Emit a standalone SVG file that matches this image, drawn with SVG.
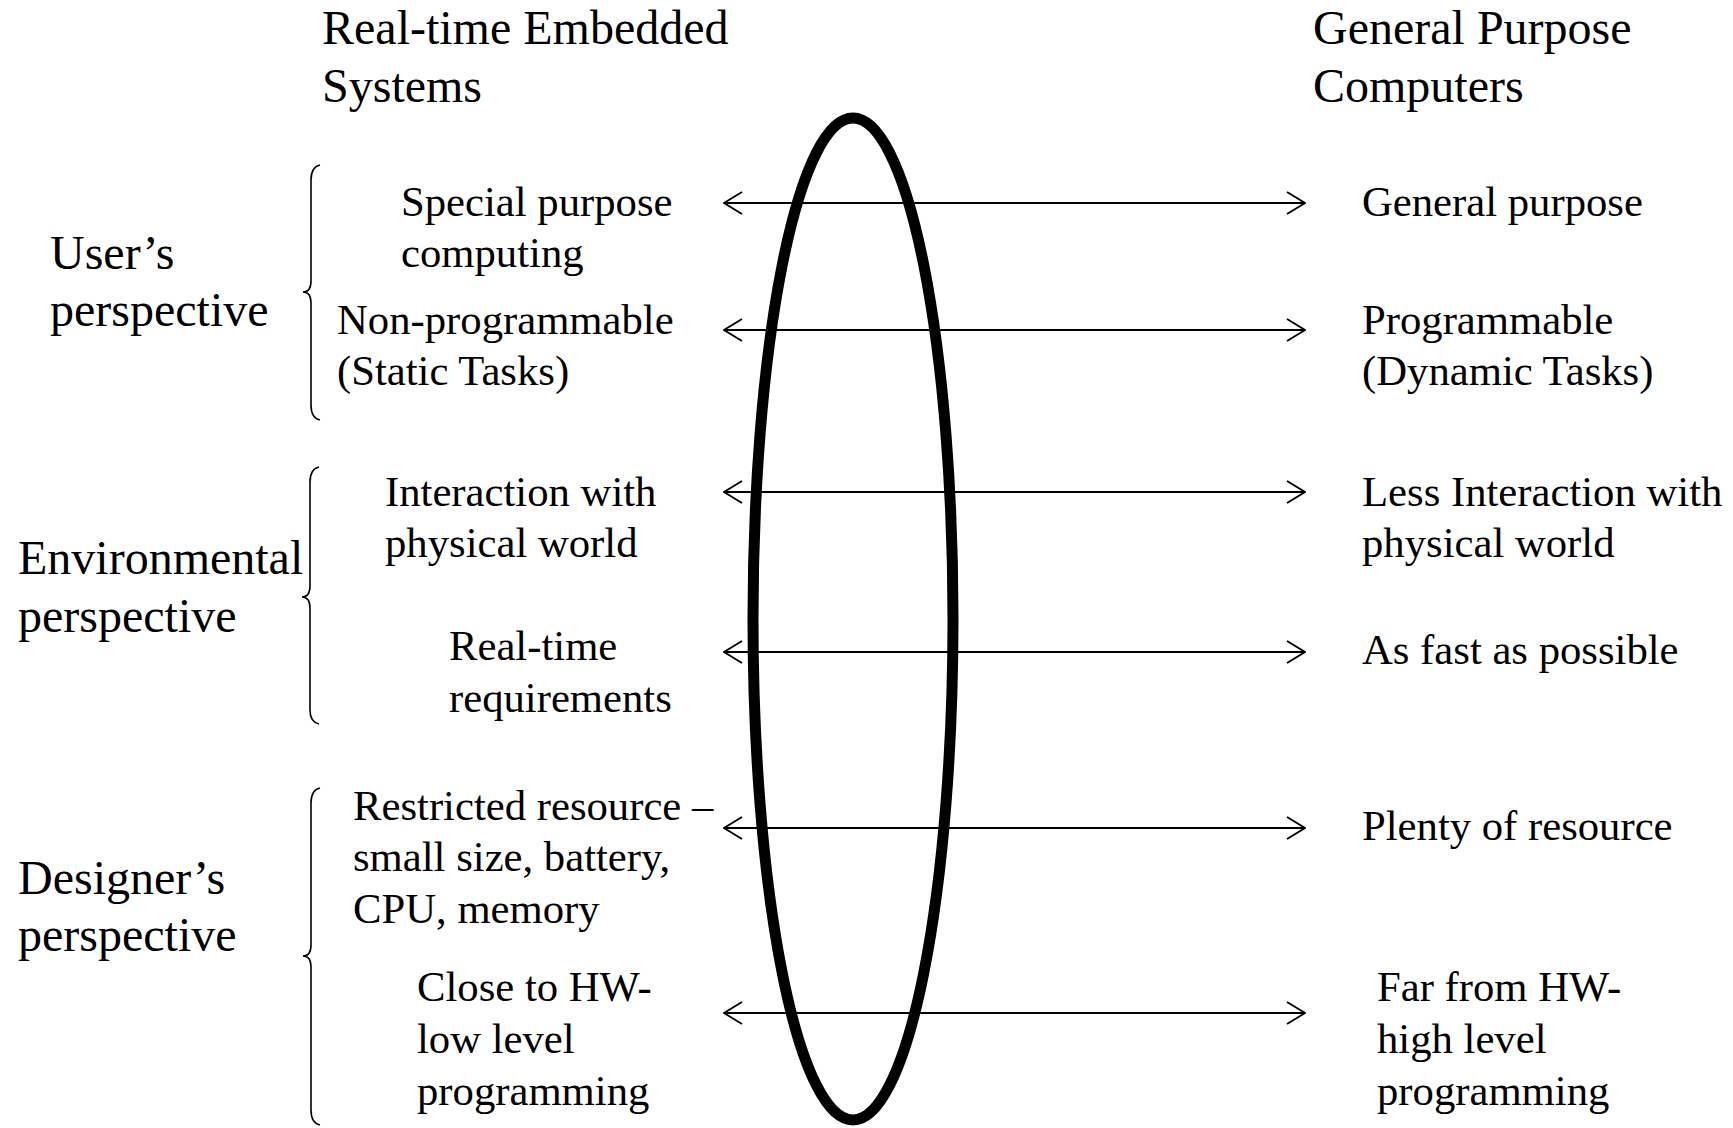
<svg xmlns="http://www.w3.org/2000/svg" width="1733" height="1128" viewBox="0 0 1733 1128">
<style>
text{font-family:"Liberation Serif","Times New Roman",serif;fill:#000}
.h{font-size:48px}
.l{font-size:42.7px}
.brace{fill:none;stroke:#000;stroke-width:1.6}
.arr{stroke:#000;stroke-width:1.8;fill:none;marker-start:url(#ah);marker-end:url(#ah)}
</style>
<defs>
<marker id="ah" viewBox="0 0 20 24" refX="19" refY="12" markerWidth="20" markerHeight="24" markerUnits="userSpaceOnUse" orient="auto-start-reverse">
<path d="M1 1 L19 12 L1 23" fill="none" stroke="#000" stroke-width="1.8"/>
</marker>
</defs>
<rect width="1733" height="1128" fill="#fff"/>
<g id="connectors">
<line class="arr" x1="724" y1="203" x2="1305" y2="203"/>
<line class="arr" x1="724" y1="330" x2="1305" y2="330"/>
<line class="arr" x1="724" y1="492" x2="1305" y2="492"/>
<line class="arr" x1="724" y1="652" x2="1305" y2="652"/>
<line class="arr" x1="724" y1="828" x2="1305" y2="828"/>
<line class="arr" x1="724" y1="1013" x2="1305" y2="1013"/>
</g>
<g id="ellipse"><ellipse cx="853" cy="619" rx="100" ry="501" fill="none" stroke="#000" stroke-width="11"/></g>
<g id="header-left"><text class="h" x="322" y="44">Real-time Embedded</text><text class="h" x="322" y="102">Systems</text></g>
<g id="header-right"><text class="h" x="1313" y="44">General Purpose</text><text class="h" x="1313" y="102">Computers</text></g>
<g id="users"><text class="h" x="50" y="269">User’s</text><text class="h" x="50" y="326">perspective</text>
<path class="brace" d="M320 165 Q311 167 311 180 L311 281 Q311 292 303 292 Q311 292 311 303 L311 405 Q311 418 320 420"/></g>
<g id="environmental"><text class="h" x="18" y="574">Environmental</text><text class="h" x="18" y="632">perspective</text>
<path class="brace" d="M319 467 Q310 469 310 482 L310 586 Q310 597 302 597 Q310 597 310 608 L310 710 Q310 722 319 724"/></g>
<g id="designers"><text class="h" x="18" y="894">Designer’s</text><text class="h" x="18" y="951">perspective</text>
<path class="brace" d="M320 788 Q311 790 311 803 L311 945 Q311 956 303 956 Q311 956 311 967 L311 1110 Q311 1123 320 1125"/></g>
<g id="special"><text class="l" x="401" y="216">Special purpose</text><text class="l" x="401" y="267">computing</text></g>
<g id="nonprog"><text class="l" x="337" y="334">Non-programmable</text><text class="l" x="337" y="385">(Static Tasks)</text></g>
<g id="interaction"><text class="l" x="385" y="506">Interaction with</text><text class="l" x="385" y="557">physical world</text></g>
<g id="realtime"><text class="l" x="449" y="660">Real-time</text><text class="l" x="449" y="712">requirements</text></g>
<g id="restricted"><text class="l" x="353" y="820">Restricted resource –</text><text class="l" x="353" y="871">small size, battery,</text><text class="l" x="353" y="923">CPU, memory</text></g>
<g id="close"><text class="l" x="417" y="1001">Close to HW-</text><text class="l" x="417" y="1053">low level</text><text class="l" x="417" y="1105">programming</text></g>
<g id="general"><text class="l" x="1362" y="216">General purpose</text></g>
<g id="prog"><text class="l" x="1362" y="334">Programmable</text><text class="l" x="1362" y="385">(Dynamic Tasks)</text></g>
<g id="less"><text class="l" x="1362" y="506">Less Interaction with</text><text class="l" x="1362" y="557">physical world</text></g>
<g id="fast"><text class="l" x="1362" y="664">As fast as possible</text></g>
<g id="plenty"><text class="l" x="1362" y="840">Plenty of resource</text></g>
<g id="far"><text class="l" x="1377" y="1001">Far from HW-</text><text class="l" x="1377" y="1053">high level</text><text class="l" x="1377" y="1105">programming</text></g>
</svg>
